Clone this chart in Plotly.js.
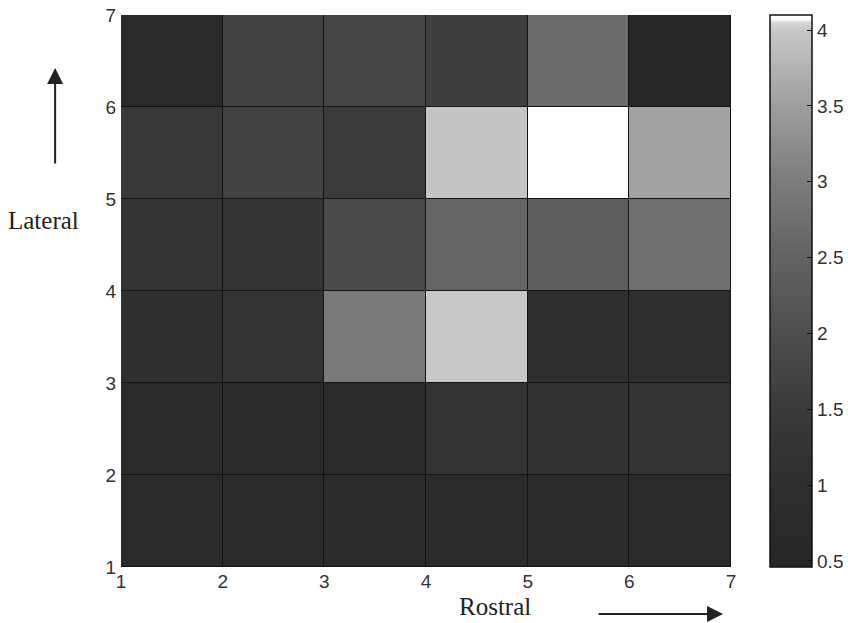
<!DOCTYPE html>
<html>
<head>
<meta charset="utf-8">
<script src="https://cdn.plot.ly/plotly-3.0.1.min.js"></script>
<style>html,body{margin:0;padding:0;background:#fff;}#chart{width:848px;height:623px;}</style>
</head>
<body>
<div id="chart"></div>
<script>
// Bin edges (Rostral = x, Lateral = y)
const xEdges = [1, 2, 3, 4, 5, 6, 7];
const yEdges = [1, 2, 3, 4, 5, 6, 7];
// Values per row, bottom (y 1-2) to top (y 6-7), columns x 1-2 ... 6-7
const row1 = [0.70, 0.70, 0.70, 0.70, 0.70, 0.70];
const row2 = [0.75, 0.65, 0.65, 1.20, 1.15, 1.20];
const row3 = [1.05, 1.20, 2.95, 4.00, 1.00, 1.00];
const row4 = [1.20, 1.25, 1.90, 2.55, 2.40, 2.75];
const row5 = [1.40, 1.70, 1.50, 3.95, 4.10, 3.55];
const row6 = [0.75, 1.70, 1.80, 1.60, 2.70, 0.50];
const zValues = [row1, row2, row3, row4, row5, row6];
const xTicks = [1, 2, 3, 4, 5, 6, 7];
const yTicks = [1, 2, 3, 4, 5, 6, 7];
const cbTicks = [0.5, 1, 1.5, 2, 2.5, 3, 3.5, 4];

const zmin = 0.46, zmax = 4.1;
const grayStops = [
  [0.46, '#262626'], [1.0, '#2e2e2e'], [1.5, '#3a3a3a'], [2.0, '#4e4e4e'],
  [2.5, '#626262'], [3.0, '#7c7c7c'], [3.5, '#9e9e9e'], [4.0, '#c8c8c8'],
  [4.05, '#d8d8d8'], [4.07, '#fafafa'], [4.1, '#ffffff']
];
const colorscale = grayStops.map(s => [(s[0] - zmin) / (zmax - zmin), s[1]]);

const tickFont = {family: 'Liberation Sans, Arial, sans-serif', size: 19, color: '#333'};

const trace = {
  type: 'heatmap',
  x: xEdges,
  y: yEdges,
  z: zValues,
  zmin: zmin,
  zmax: zmax,
  xgap: 1,
  ygap: 1,
  colorscale: colorscale,
  showscale: true,
  colorbar: {
    x: 1.064, xanchor: 'left', xpad: 0,
    y: 0.5, yanchor: 'middle', len: 1.0, lenmode: 'fraction', ypad: 0,
    thickness: 42, thicknessmode: 'pixels',
    outlinewidth: 1.5, outlinecolor: '#111',
    tickmode: 'array', tickvals: cbTicks, ticktext: cbTicks.map(String),
    ticks: 'inside', ticklen: 5, tickcolor: '#111',
    tickfont: tickFont
  },
  hoverinfo: 'skip'
};

const layout = {
  width: 848, height: 623,
  margin: {l: 121, r: 117, t: 15, b: 56, autoexpand: false},
  paper_bgcolor: '#ffffff',
  plot_bgcolor: '#141414',
  showlegend: false,
  xaxis: {
    range: [1, 7], tickmode: 'array', tickvals: xTicks, ticktext: xTicks.map(String),
    ticks: '', showgrid: false, zeroline: false, showline: false,
    tickfont: tickFont, ticklabelstandoff: 1
  },
  yaxis: {
    range: [1, 7], tickmode: 'array', tickvals: yTicks, ticktext: yTicks.map(String),
    ticks: '', showgrid: false, zeroline: false, showline: false,
    tickfont: tickFont, ticklabelstandoff: 4
  },
  annotations: [
    {xref: 'paper', yref: 'paper', x: -0.127, y: 0.628, text: 'Lateral', showarrow: false,
     xanchor: 'center', yanchor: 'middle',
     font: {family: 'Liberation Serif, Times New Roman, serif', size: 25, color: '#222'}},
    {xref: 'paper', yref: 'paper', x: 0.613, y: -0.072, text: 'Rostral', showarrow: false,
     xanchor: 'center', yanchor: 'middle',
     font: {family: 'Liberation Serif, Times New Roman, serif', size: 25, color: '#222'}},
    {xref: 'paper', yref: 'paper', axref: 'pixel', ayref: 'pixel',
     x: -0.108, y: 0.904, ax: 0, ay: 97, text: '', showarrow: true,
     arrowhead: 2, arrowsize: 1.6, arrowwidth: 2, arrowcolor: '#222'},
    {xref: 'paper', yref: 'paper', axref: 'pixel', ayref: 'pixel',
     x: 0.987, y: -0.085, ax: -126, ay: 0, text: '', showarrow: true,
     arrowhead: 2, arrowsize: 1.6, arrowwidth: 2, arrowcolor: '#222'}
  ]
};

Plotly.newPlot('chart', [trace], layout, {displayModeBar: false, staticPlot: true});
</script>
</body>
</html>
